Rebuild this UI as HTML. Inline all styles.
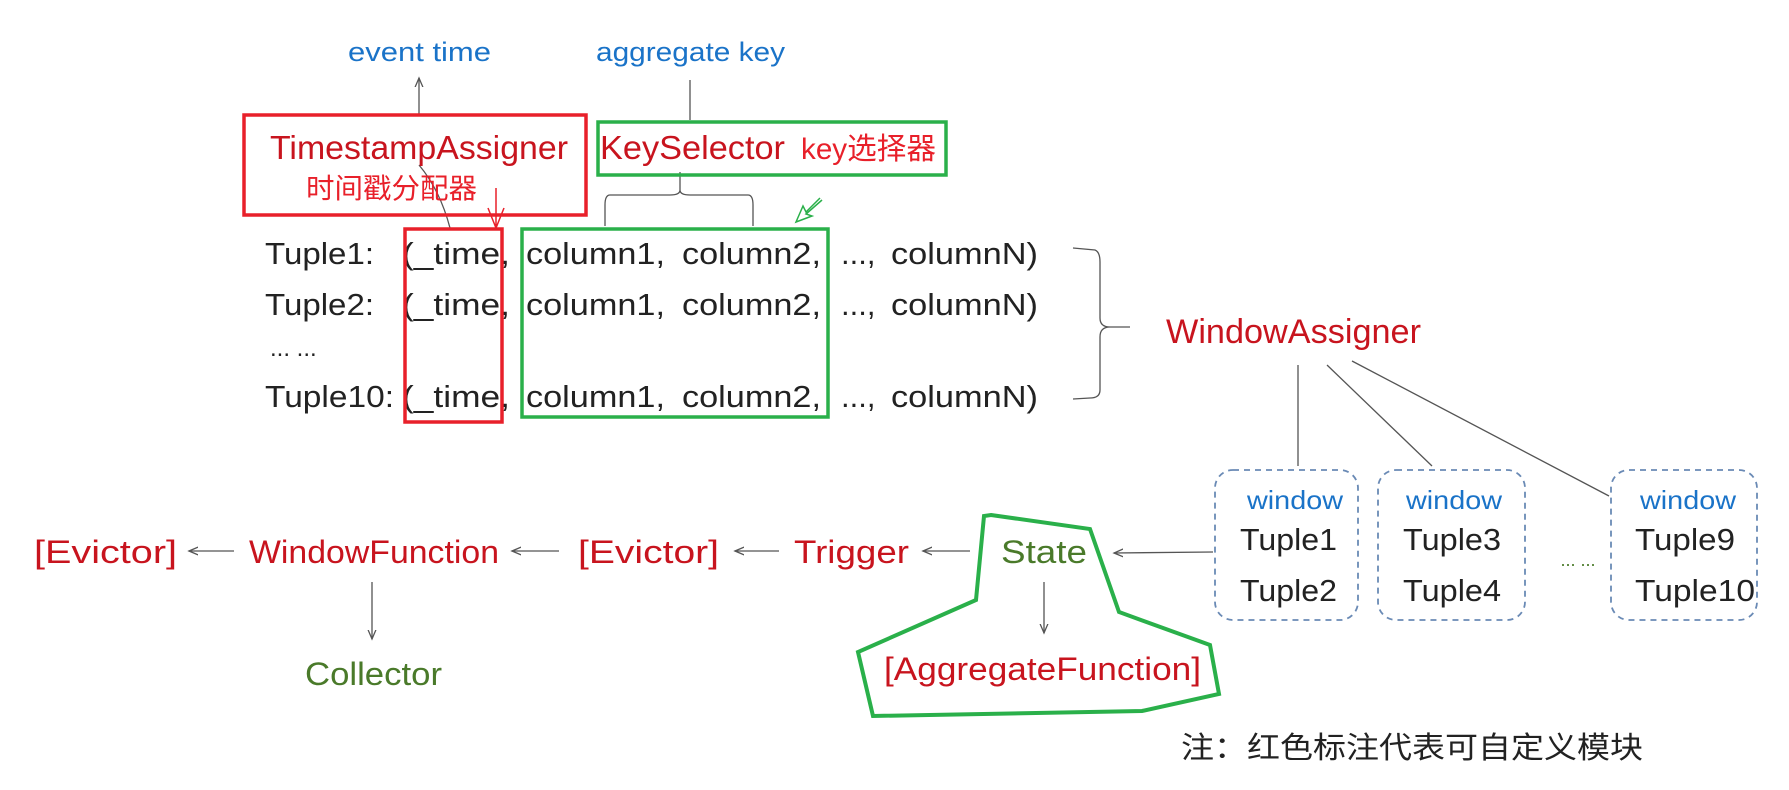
<!DOCTYPE html>
<html><head><meta charset="utf-8"><style>
html,body{margin:0;padding:0;background:#fff;}
svg{display:block}
text{font-family:"Liberation Sans","Noto Sans CJK SC",sans-serif;}
</style></head><body>
<svg width="1789" height="790" viewBox="0 0 1789 790" xmlns="http://www.w3.org/2000/svg">
<defs><marker id="ah" markerWidth="8" markerHeight="8" refX="7" refY="4" orient="auto"><path d="M0,1 L7,4 L0,7" fill="none" stroke="#555" stroke-width="1"/></marker></defs>
<g font-size="27" fill="#1a73c8" lengthAdjust="spacingAndGlyphs">
<text x="348" y="61" textLength="143" lengthAdjust="spacingAndGlyphs">event time</text>
<text x="596" y="61" textLength="189" lengthAdjust="spacingAndGlyphs">aggregate key</text>
</g>
<g stroke="#555" stroke-width="1.3" fill="none">
<line x1="419" y1="114" x2="419" y2="78" marker-end="url(#ah)"/>
<line x1="690" y1="120" x2="690" y2="80"/>
<path d="M419,165 Q440,190 450,228"/>
<path d="M680,172 L680,190 Q680,195 670,195 L610,195 Q605,195 605,205 L605,226 M680,190 Q680,195 690,195 L748,195 Q753,195 753,205 L753,226"/>
<path d="M1073,248 L1095,250 Q1100,252 1100,262 L1100,318 Q1100,327 1110,327 L1130,327 M1110,327 Q1100,327 1100,337 L1100,390 Q1100,398 1090,398 L1073,399"/>
<line x1="1298" y1="365" x2="1298" y2="466"/>
<line x1="1327" y1="365" x2="1432" y2="466"/>
<line x1="1352" y1="361" x2="1609" y2="496"/>
<line x1="1213" y1="552" x2="1114" y2="553" marker-end="url(#ah)"/>
<line x1="234" y1="551" x2="189" y2="551" marker-end="url(#ah)"/>
<line x1="559" y1="551" x2="512" y2="551" marker-end="url(#ah)"/>
<line x1="779" y1="551" x2="735" y2="551" marker-end="url(#ah)"/>
<line x1="970" y1="551" x2="923" y2="551" marker-end="url(#ah)"/>
<line x1="372" y1="582" x2="372" y2="639" marker-end="url(#ah)"/>
<line x1="1044" y1="582" x2="1044" y2="633" marker-end="url(#ah)"/>
</g>
<rect x="244" y="115" width="342" height="100" fill="none" stroke="#e8202a" stroke-width="3.5"/>
<rect x="598" y="122" width="348" height="53" fill="none" stroke="#2ab04a" stroke-width="3.5"/>
<text x="270" y="159" font-size="33" fill="#c8141e" textLength="298" lengthAdjust="spacingAndGlyphs">TimestampAssigner</text>
<text x="306" y="198" font-size="28" fill="#e8202a" textLength="171" lengthAdjust="spacingAndGlyphs">时间戳分配器</text>
<text x="600" y="159" font-size="33" fill="#c8141e" textLength="185" lengthAdjust="spacingAndGlyphs">KeySelector</text>
<text x="801" y="159" font-size="30" fill="#e8202a" textLength="135" lengthAdjust="spacingAndGlyphs">key选择器</text>
<path d="M496,188 L496,226 M488,208 L496,228 L504,208" fill="none" stroke="#e8202a" stroke-width="1.5"/>
<path d="M820,198 L806,212 L803,206 L796,222 L812,216 L806,214 L822,200" fill="none" stroke="#2ab04a" stroke-width="1.5"/>
<g font-size="31" fill="#222">
<text x="265" y="264" textLength="109" lengthAdjust="spacingAndGlyphs">Tuple1:</text><text x="402" y="264" textLength="108" lengthAdjust="spacingAndGlyphs">(_time,</text><text x="526" y="264" textLength="139" lengthAdjust="spacingAndGlyphs">column1,</text><text x="682" y="264" textLength="139" lengthAdjust="spacingAndGlyphs">column2,</text><text x="841" y="264">...,</text><text x="891" y="264" textLength="147" lengthAdjust="spacingAndGlyphs">columnN)</text>
<text x="265" y="315" textLength="109" lengthAdjust="spacingAndGlyphs">Tuple2:</text><text x="402" y="315" textLength="108" lengthAdjust="spacingAndGlyphs">(_time,</text><text x="526" y="315" textLength="139" lengthAdjust="spacingAndGlyphs">column1,</text><text x="682" y="315" textLength="139" lengthAdjust="spacingAndGlyphs">column2,</text><text x="841" y="315">...,</text><text x="891" y="315" textLength="147" lengthAdjust="spacingAndGlyphs">columnN)</text>
<text x="270" y="356" font-size="24">... ...</text>
<text x="265" y="407" textLength="129" lengthAdjust="spacingAndGlyphs">Tuple10:</text><text x="402" y="407" textLength="108" lengthAdjust="spacingAndGlyphs">(_time,</text><text x="526" y="407" textLength="139" lengthAdjust="spacingAndGlyphs">column1,</text><text x="682" y="407" textLength="139" lengthAdjust="spacingAndGlyphs">column2,</text><text x="841" y="407">...,</text><text x="891" y="407" textLength="147" lengthAdjust="spacingAndGlyphs">columnN)</text>
</g>
<rect x="405" y="229" width="97" height="193" fill="none" stroke="#e8202a" stroke-width="3.5"/>
<rect x="522" y="229" width="306" height="188" fill="none" stroke="#2ab04a" stroke-width="3.5"/>
<text x="1166" y="343" font-size="34" fill="#c8141e" textLength="255" lengthAdjust="spacingAndGlyphs">WindowAssigner</text>
<g fill="none" stroke="#6a8ab5" stroke-width="1.8" stroke-dasharray="6,5">
<rect x="1215" y="470" width="143" height="150" rx="18"/>
<rect x="1378" y="470" width="147" height="150" rx="18"/>
<rect x="1611" y="470" width="146" height="150" rx="18"/>
</g>
<g font-size="26" fill="#1a73c8">
<text x="1247" y="509" textLength="96" lengthAdjust="spacingAndGlyphs">window</text><text x="1406" y="509" textLength="96" lengthAdjust="spacingAndGlyphs">window</text><text x="1640" y="509" textLength="96" lengthAdjust="spacingAndGlyphs">window</text>
</g>
<g font-size="31" fill="#222">
<text x="1240" y="550" textLength="97" lengthAdjust="spacingAndGlyphs">Tuple1</text><text x="1240" y="601" textLength="97" lengthAdjust="spacingAndGlyphs">Tuple2</text>
<text x="1403" y="550" textLength="98" lengthAdjust="spacingAndGlyphs">Tuple3</text><text x="1403" y="601" textLength="98" lengthAdjust="spacingAndGlyphs">Tuple4</text>
<text x="1635" y="550" textLength="100" lengthAdjust="spacingAndGlyphs">Tuple9</text><text x="1635" y="601" textLength="120" lengthAdjust="spacingAndGlyphs">Tuple10</text>
</g>
<text x="1578" y="566" font-size="18" fill="#4a7a2a" text-anchor="middle">... ...</text>
<g font-size="32" fill="#c8141e">
<text x="34" y="563" textLength="143" lengthAdjust="spacingAndGlyphs">[Evictor]</text>
<text x="249" y="563" textLength="250" lengthAdjust="spacingAndGlyphs">WindowFunction</text>
<text x="578" y="563" textLength="141" lengthAdjust="spacingAndGlyphs">[Evictor]</text>
<text x="794" y="563" textLength="115" lengthAdjust="spacingAndGlyphs">Trigger</text>
<text x="884" y="680" textLength="317" lengthAdjust="spacingAndGlyphs">[AggregateFunction]</text>
</g>
<text x="1001" y="563" font-size="32" fill="#4a7a2a" textLength="86" lengthAdjust="spacingAndGlyphs">State</text>
<text x="305" y="685" font-size="32" fill="#4a7a2a" textLength="137" lengthAdjust="spacingAndGlyphs">Collector</text>
<polygon points="991,515 1090,529 1119,612 1210,645 1219,694 1142,711 873,716 858,652 976,600 984,516" fill="none" stroke="#2ab04a" stroke-width="4"/>
<text x="1181" y="758" font-size="30" fill="#222" textLength="462" lengthAdjust="spacingAndGlyphs">注：红色标注代表可自定义模块</text>
</svg>
</body></html>
